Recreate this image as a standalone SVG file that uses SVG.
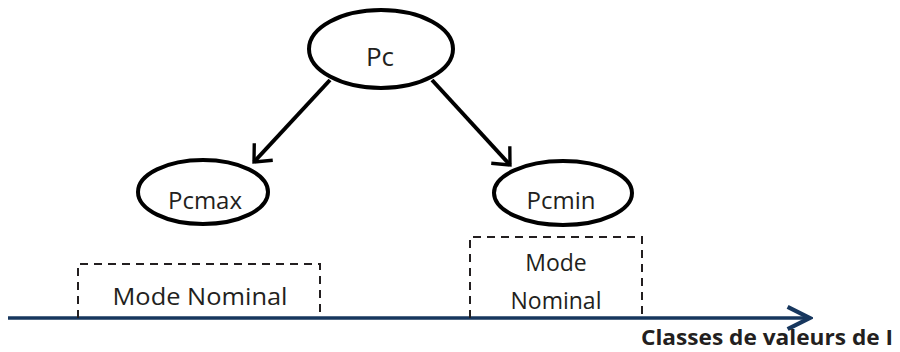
<svg xmlns="http://www.w3.org/2000/svg" width="900" height="352" viewBox="0 0 900 352">
<style>
.node{fill:#fff;stroke:#000;stroke-width:4}
.lbl{font-family:"Open Sans","Liberation Sans",sans-serif;fill:#231f20;text-anchor:middle}
.box{fill:none;stroke:#231f20;stroke-width:2;stroke-dasharray:8,6}
.edge{stroke:#000;stroke-width:4;fill:none}
</style>
<defs>
<marker id="ah" viewBox="0 0 10 10" refX="9" refY="5" markerWidth="7" markerHeight="7" orient="auto" markerUnits="strokeWidth">
<path d="M4,0.5 L9,5 L4,9.5" fill="none" stroke="#000" stroke-width="1.2"/>
</marker>
<marker id="axh" viewBox="0 0 10 10" refX="9" refY="5" markerWidth="8" markerHeight="8" orient="auto" markerUnits="strokeWidth">
<path d="M1,1 L9,5 L1,9" fill="none" stroke="#17375e" stroke-width="1.5"/>
</marker>
</defs>
<g id="connectors">
<line class="edge" x1="330" y1="80" x2="254" y2="162" marker-end="url(#ah)"/>
<line class="edge" x1="432" y1="80" x2="510" y2="165" marker-end="url(#ah)"/>
</g>
<g id="axis">
<line x1="8" y1="318" x2="810" y2="318" stroke="#17375e" stroke-width="3.5" marker-end="url(#axh)"/>
<text x="641" y="345" font-family="'Open Sans','Liberation Sans',sans-serif" font-size="21" font-weight="bold" fill="#231f20" textLength="252" lengthAdjust="spacingAndGlyphs">Classes de valeurs de I</text>
</g>
<g id="pc">
<ellipse class="node" cx="381" cy="49" rx="72" ry="39"/>
<text class="lbl" x="380" y="66" font-size="26">Pc</text>
</g>
<g id="pcmax">
<ellipse class="node" cx="203" cy="192" rx="65" ry="32"/>
<text class="lbl" x="205" y="209" font-size="24">Pcmax</text>
</g>
<g id="pcmin">
<ellipse class="node" cx="563" cy="193" rx="69" ry="32"/>
<text class="lbl" x="561" y="209" font-size="24">Pcmin</text>
</g>
<g id="mode1">
<path class="box" d="M78,318 V264 H320 V318"/>
<text class="lbl" x="200" y="305" font-size="23" textLength="175" lengthAdjust="spacingAndGlyphs">Mode Nominal</text>
</g>
<g id="mode2">
<path class="box" d="M470,318 V237 H642 V318"/>
<text class="lbl" x="556" y="271" font-size="23">Mode</text>
<text class="lbl" x="556" y="309" font-size="23">Nominal</text>
</g>
</svg>
